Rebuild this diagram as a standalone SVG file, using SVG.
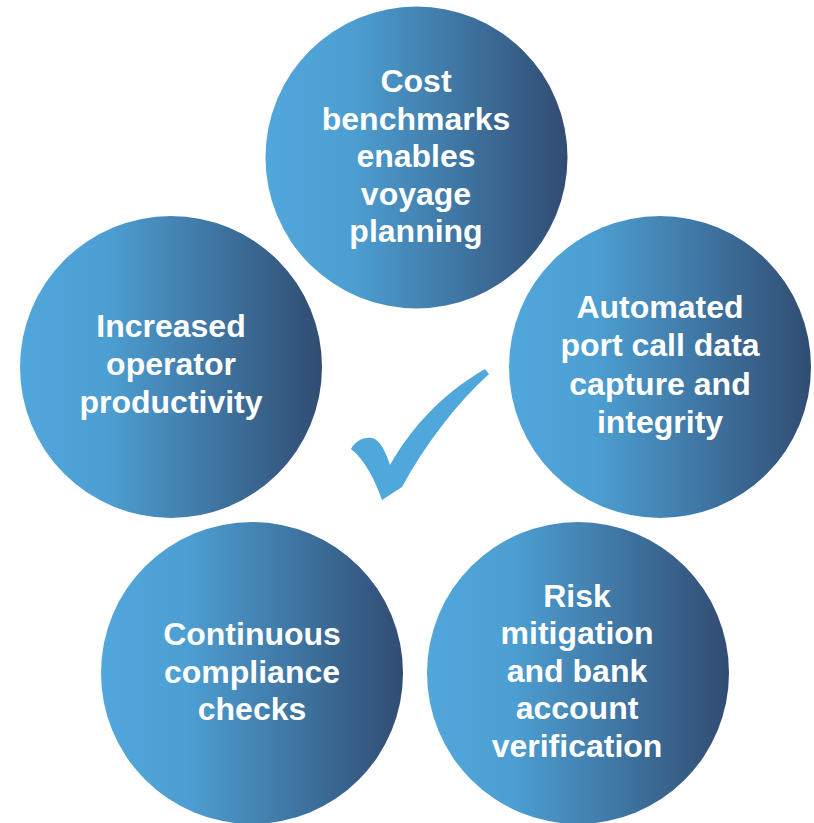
<svg xmlns="http://www.w3.org/2000/svg" width="814" height="823" viewBox="0 0 814 823">
<defs>
<linearGradient id="g" x1="0" y1="0" x2="1" y2="0">
<stop offset="0" stop-color="#51a6db"/>
<stop offset="0.28" stop-color="#4d9fd3"/>
<stop offset="1" stop-color="#314c72"/>
</linearGradient>
</defs>
<style>
.c{fill:url(#g)}
.t{font-family:"Liberation Sans",Arial,sans-serif;font-weight:bold;font-size:32px;fill:#ffffff;text-anchor:middle}
</style>
<rect width="814" height="823" fill="#ffffff"/>
<g id="node-top">
<circle class="c" cx="416.5" cy="157.5" r="151"/>
<text class="t"><tspan x="416" y="92">Cost</tspan><tspan x="416" y="130">benchmarks</tspan><tspan x="416" y="167">enables</tspan><tspan x="416" y="205">voyage</tspan><tspan x="416" y="242">planning</tspan></text>
</g>
<g id="node-left">
<circle class="c" cx="171" cy="367" r="151"/>
<text class="t"><tspan x="171" y="337">Increased</tspan><tspan x="171" y="375">operator</tspan><tspan x="171" y="413">productivity</tspan></text>
</g>
<g id="node-right">
<circle class="c" cx="660" cy="367" r="151"/>
<text class="t"><tspan x="660" y="318">Automated</tspan><tspan x="660" y="356">port call data</tspan><tspan x="660" y="395">capture and</tspan><tspan x="660" y="433">integrity</tspan></text>
</g>
<g id="node-bottom-left">
<circle class="c" cx="252" cy="673" r="151"/>
<text class="t"><tspan x="252" y="645">Continuous</tspan><tspan x="252" y="683">compliance</tspan><tspan x="252" y="720">checks</tspan></text>
</g>
<g id="node-bottom-right">
<circle class="c" cx="578" cy="673" r="151"/>
<text class="t"><tspan x="577" y="607">Risk</tspan><tspan x="577" y="644">mitigation</tspan><tspan x="577" y="682">and bank</tspan><tspan x="577" y="719">account</tspan><tspan x="577" y="757">verification</tspan></text>
</g>
<g id="checkmark">
<path d="M485,369 C440,395 410,430 390,465 C385,450 380,440 372,438 C362,437 355,442 351,449 C365,460 375,480 382,500 L402,487 C425,445 455,405 489,374 Z" fill="#4fa7db"/>
</g>
</svg>
